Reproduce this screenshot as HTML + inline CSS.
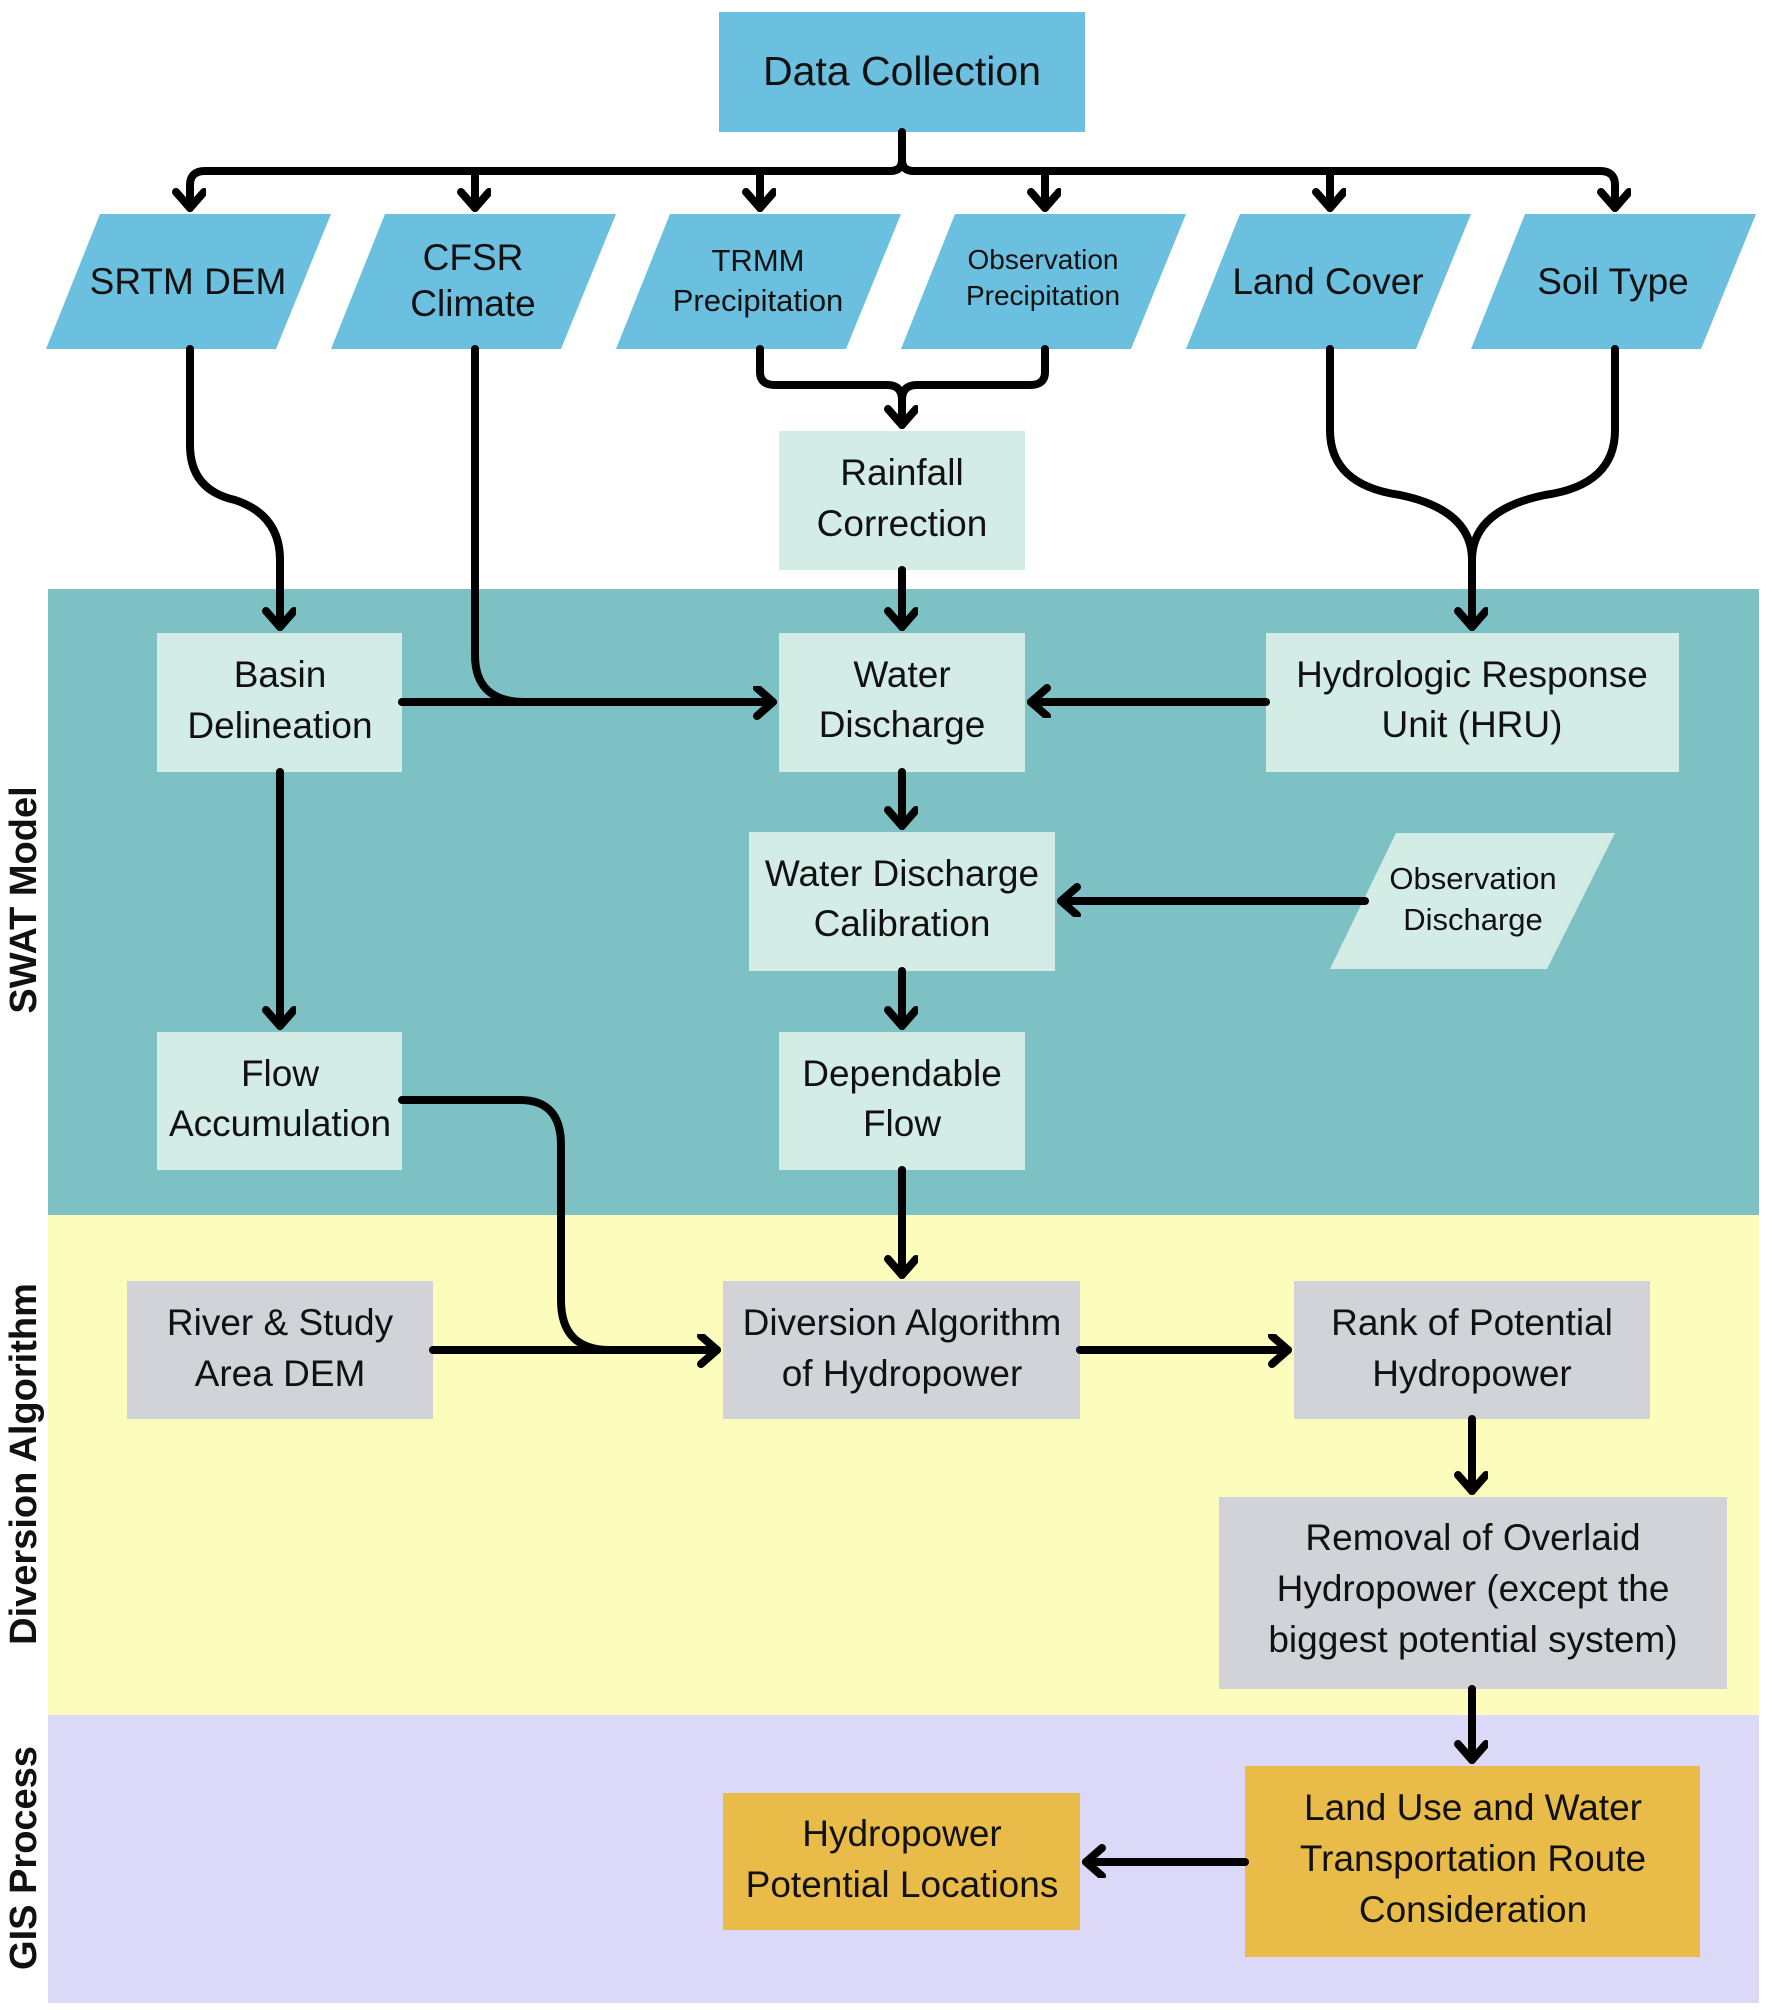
<!DOCTYPE html>
<html><head><meta charset="utf-8"><style>
html,body{margin:0;padding:0;background:#fff;}
svg{display:block;}
text{font-family:"Liberation Sans",sans-serif;font-size:37px;fill:#111;text-anchor:middle;}
.s{font-size:31px;}
.side{font-size:38px;font-weight:bold;}
.c{fill:none;stroke:#000;stroke-width:8;stroke-linecap:round;stroke-linejoin:round;}
</style></head><body>
<svg width="1772" height="2010" viewBox="0 0 1772 2010" xmlns="http://www.w3.org/2000/svg">
<defs>
<marker id="a" markerUnits="userSpaceOnUse" markerWidth="40" markerHeight="40" refX="20" refY="16" orient="auto">
<path d="M4,2 L20,16 L4,30" fill="none" stroke="#000" stroke-width="8" stroke-linecap="round" stroke-linejoin="round"/>
</marker>
</defs>
<rect x="48" y="589" width="1711" height="626" fill="#7ec1c5"/>
<rect x="48" y="1215" width="1711" height="500" fill="#fcfcbc"/>
<rect x="48" y="1715" width="1711" height="288" fill="#dcd9f8"/>
<text class="side" transform="translate(36,900) rotate(-90)">SWAT Model</text>
<text class="side" transform="translate(36,1464) rotate(-90)">Diversion Algorithm</text>
<text class="side" transform="translate(36,1858) rotate(-90)">GIS Process</text>

<rect x="719" y="12" width="366" height="120" fill="#6bbfdf"/>
<text x="902" y="85" style="font-size:41px">Data Collection</text>

<g fill="#6bbfdf">
<polygon points="100,214 331,214 276,349 46,349"/>
<polygon points="385,214 616,214 561,349 331,349"/>
<polygon points="670,214 901,214 846,349 616,349"/>
<polygon points="955,214 1186,214 1131,349 901,349"/>
<polygon points="1240,214 1471,214 1416,349 1186,349"/>
<polygon points="1525,214 1756,214 1701,349 1471,349"/>
</g>
<text x="188" y="294">SRTM DEM</text>
<text x="473" y="270">CFSR</text><text x="473" y="316">Climate</text>
<text x="758" y="271" class="s">TRMM</text><text x="758" y="311" class="s">Precipitation</text>
<text x="1043" y="269" style="font-size:28px">Observation</text><text x="1043" y="305" style="font-size:28px">Precipitation</text>
<text x="1328" y="294">Land Cover</text>
<text x="1613" y="294">Soil Type</text>

<g fill="#d4ece6">
<rect x="779" y="431" width="246" height="139"/>
<rect x="157" y="633" width="245" height="139"/>
<rect x="779" y="633" width="246" height="139"/>
<rect x="1266" y="633" width="413" height="139"/>
<rect x="749" y="832" width="306" height="139"/>
<polygon points="1396,833 1615,833 1547,969 1330,969"/>
<rect x="157" y="1032" width="245" height="138"/>
<rect x="779" y="1032" width="246" height="138"/>
</g>
<text x="902" y="485">Rainfall</text><text x="902" y="536">Correction</text>
<text x="280" y="687">Basin</text><text x="280" y="738">Delineation</text>
<text x="902" y="687">Water</text><text x="902" y="737">Discharge</text>
<text x="1472" y="687">Hydrologic Response</text><text x="1472" y="737">Unit (HRU)</text>
<text x="902" y="886">Water Discharge</text><text x="902" y="936">Calibration</text>
<text x="1473" y="889" class="s">Observation</text><text x="1473" y="930" class="s">Discharge</text>
<text x="280" y="1086">Flow</text><text x="280" y="1136">Accumulation</text>
<text x="902" y="1086">Dependable</text><text x="902" y="1136">Flow</text>

<g fill="#d2d3d9">
<rect x="127" y="1281" width="306" height="138"/>
<rect x="723" y="1281" width="357" height="138"/>
<rect x="1294" y="1281" width="356" height="138"/>
<rect x="1219" y="1497" width="508" height="192"/>
</g>
<text x="280" y="1335">River &amp; Study</text><text x="280" y="1386">Area DEM</text>
<text x="902" y="1335">Diversion Algorithm</text><text x="902" y="1386">of Hydropower</text>
<text x="1472" y="1335">Rank of Potential</text><text x="1472" y="1386">Hydropower</text>
<text x="1473" y="1550">Removal of Overlaid</text><text x="1473" y="1601">Hydropower (except the</text><text x="1473" y="1652">biggest potential system)</text>

<g fill="#e9bb48">
<rect x="1245" y="1766" width="455" height="191"/>
<rect x="723" y="1793" width="357" height="137"/>
</g>
<text x="1473" y="1820">Land Use and Water</text><text x="1473" y="1871">Transportation Route</text><text x="1473" y="1922">Consideration</text>
<text x="902" y="1846">Hydropower</text><text x="902" y="1897">Potential Locations</text>

<path class="c" d="M902,132 V160 Q902,171 890,171 H205 Q190,171 190,185 V208" marker-end="url(#a)"/>
<path class="c" d="M902,160 Q902,171 914,171 H1600 Q1615,171 1615,185 V208" marker-end="url(#a)"/>
<path class="c" d="M475,171 V208" marker-end="url(#a)"/>
<path class="c" d="M760,171 V208" marker-end="url(#a)"/>
<path class="c" d="M1045,171 V208" marker-end="url(#a)"/>
<path class="c" d="M1330,171 V208" marker-end="url(#a)"/>

<path class="c" d="M190,349 V445 Q190,490 235,500 Q280,515 280,560 V627" marker-end="url(#a)"/>
<path class="c" d="M475,349 V655 Q475,702 525,702 H773" marker-end="url(#a)"/>
<path class="c" d="M402,702 H525"/>
<path class="c" d="M760,349 V372 Q760,385 775,385 H887 Q902,385 902,400 V425" marker-end="url(#a)"/>
<path class="c" d="M1045,349 V372 Q1045,385 1030,385 H917 Q902,385 902,400"/>
<path class="c" d="M902,570 V627" marker-end="url(#a)"/>
<path class="c" d="M1330,349 V430 Q1330,485 1400,495 Q1472,510 1472,560 V627" marker-end="url(#a)"/>
<path class="c" d="M1615,349 V430 Q1615,485 1545,495 Q1472,510 1472,560"/>
<path class="c" d="M1266,702 H1031" marker-end="url(#a)"/>
<path class="c" d="M902,772 V826" marker-end="url(#a)"/>
<path class="c" d="M1365,901 H1061" marker-end="url(#a)"/>
<path class="c" d="M902,971 V1026" marker-end="url(#a)"/>
<path class="c" d="M280,772 V1026" marker-end="url(#a)"/>
<path class="c" d="M402,1100 H520 Q561,1100 561,1145 V1300 Q561,1350 610,1350"/>
<path class="c" d="M433,1350 H717" marker-end="url(#a)"/>
<path class="c" d="M902,1170 V1275" marker-end="url(#a)"/>
<path class="c" d="M1080,1350 H1288" marker-end="url(#a)"/>
<path class="c" d="M1472,1419 V1491" marker-end="url(#a)"/>
<path class="c" d="M1472,1689 V1760" marker-end="url(#a)"/>
<path class="c" d="M1245,1862 H1086" marker-end="url(#a)"/>
</svg>
</body></html>
